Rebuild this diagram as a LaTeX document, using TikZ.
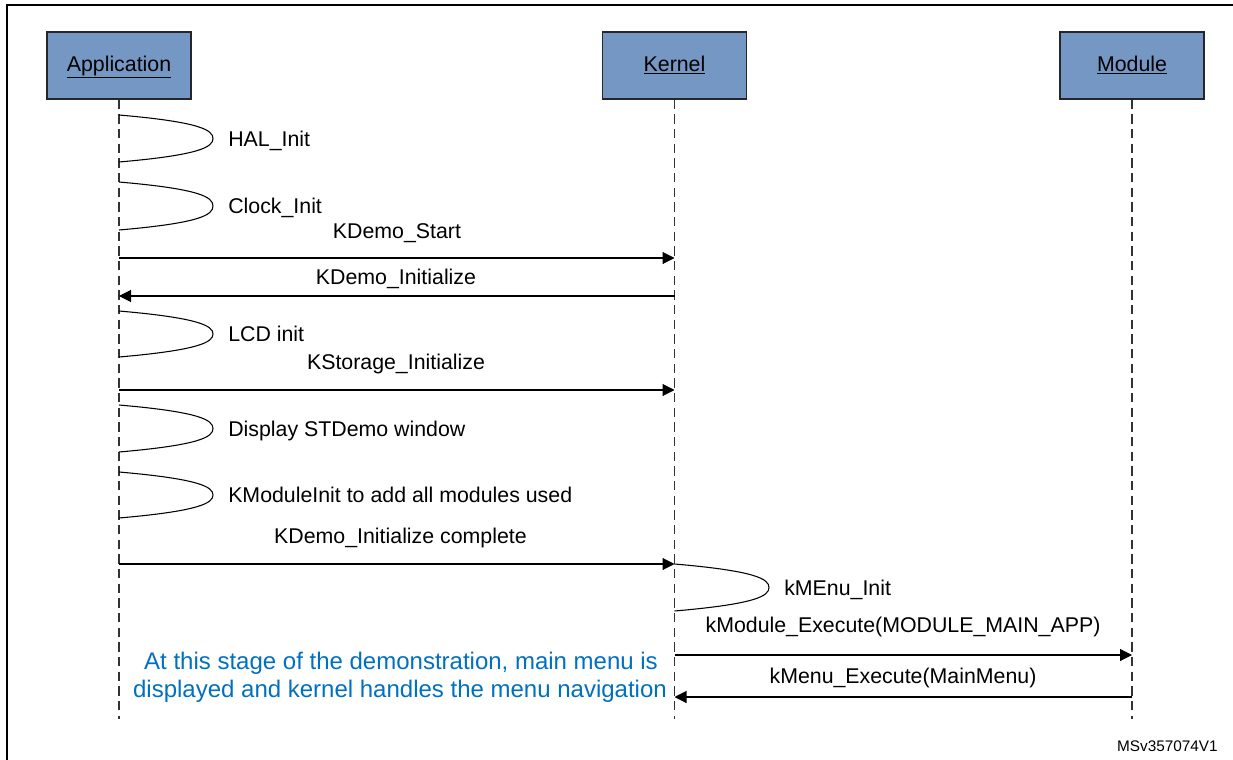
\documentclass[tikz,border=0pt]{standalone}
\usepackage{fontspec}
\setmainfont{Liberation Sans}
\usetikzlibrary{arrows.meta}
\definecolor{headfill}{RGB}{117,151,196}
\definecolor{notetext}{RGB}{0,112,192}
\newcommand\lblfont{\fontsize{16}{19.2}\selectfont}
\newcommand\mloop[6]{% name, x, ytop, ybot, tipx, label
  \draw[loopline] (#2,#3) .. controls ({#5-13},{#3+7}) and (#5,{#3+15}) .. (#5,{(#3+#4)/2})
     .. controls (#5,{#4-15}) and ({#5-13},{#4-7}) .. (#2,#4);
  \node[lbl, anchor=base west] (#1) at ({#5+15},{(#3+#4)/2+7.5}) {#6};}
\begin{document}
\begin{tikzpicture}[x=0.75pt,y=-0.75pt,
  head/.style={draw=black!85, line width=1pt, fill=headfill, minimum width=108pt, minimum height=50.25pt, inner sep=0pt, font=\lblfont, text height=11.5pt, text depth=3pt},
  lifeline/.style={line width=0.8pt, dash pattern=on 7pt off 4pt, black!80},
  msg/.style={line width=0.8pt, -{Triangle[length=9pt,width=9pt]}},
  loopline/.style={line width=0.8pt},
  lbl/.style={font=\lblfont, inner sep=0pt},
  note/.style={font=\fontsize{18}{21}\selectfont, text=notetext, align=center, inner sep=0pt}]
\useasboundingbox (0,0) rectangle (1233,760);
% frame (only top and left edges are visible)
\draw[line width=1.6pt] (1233,5) -- (7,5) -- (7,760);
% headers
\node[head] (app) at (119,65.5) {\underline{Application}};
\node[head] (ker) at (674.5,65.5) {\underline{Kernel}};
\node[head] (mod) at (1132,65.5) {\underline{Module}};
% lifeline ends
\coordinate (append) at (119,719);
\coordinate (kerend) at (674.5,719);
\coordinate (modend) at (1132,719);
\draw[lifeline] (app.south) -- (append);
\draw[lifeline] (ker.south) -- (kerend);
\draw[lifeline] (mod.south) -- (modend);
% self calls
\mloop{hal}{119}{115}{162}{213}{HAL\_Init}
\mloop{clk}{119}{182}{230}{213}{Clock\_Init}
\mloop{lcd}{119}{311}{357}{213}{LCD init}
\mloop{disp}{119}{405}{452}{213}{Display STDemo window}
\mloop{kmi}{119}{472}{518}{213}{KModuleInit to add all modules used}
\mloop{kme}{674.5}{564}{611}{769}{kMEnu\_Init}
% message end points
\coordinate (a1) at (119,258);   \coordinate (k1) at (674.5,258);
\coordinate (a2) at (119,296);   \coordinate (k2) at (674.5,296);
\coordinate (a3) at (119,390);   \coordinate (k3) at (674.5,390);
\coordinate (a4) at (119,564);   \coordinate (k4) at (674.5,564);
\coordinate (k5) at (674.5,655); \coordinate (m5) at (1132,655);
\coordinate (k6) at (674.5,697); \coordinate (m6) at (1132,697);
% messages
\draw[msg] (a1) -- (k1);
\node[lbl, anchor=base] (l1) at (397,238.5) {KDemo\_Start};
\draw[msg] (k2) -- (a2);
\node[lbl, anchor=base] (l2) at (396,284.5) {KDemo\_Initialize};
\draw[msg] (a3) -- (k3);
\node[lbl, anchor=base] (l3) at (396,369.5) {KStorage\_Initialize};
\draw[msg] (a4) -- (k4);
\node[lbl, anchor=base] (l4) at (400.5,543.5) {KDemo\_Initialize complete};
\draw[msg] (k5) -- (m5);
\node[lbl, anchor=base] (l5) at (903,632.5) {kModule\_Execute(MODULE\_MAIN\_APP)};
\draw[msg] (m6) -- (k6);
\node[lbl, anchor=base] (l6) at (903,683.5) {kMenu\_Execute(MainMenu)};
% note
\node[note, anchor=base] (n1) at (401,669.5) {At this stage of the demonstration, main menu is};
\node[note, anchor=base] (n2) at (400,697.5) {displayed and kernel handles the menu navigation};
% id
\node[font=\fontsize{11.5}{13}\selectfont, anchor=base east, inner sep=0pt] (id) at (1218,751.5) {MSv357074V1};
\end{tikzpicture}
\end{document}
